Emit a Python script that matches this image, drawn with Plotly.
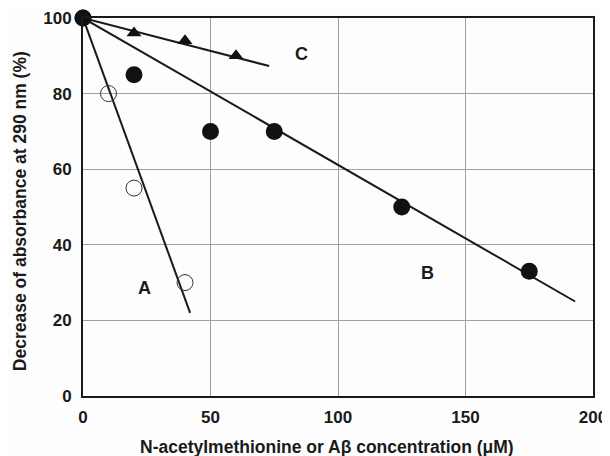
import plotly.graph_objects as go

# Data
a_x = [0, 10, 20, 40]
a_y = [100, 80, 55, 30]
b_x = [0, 20, 50, 75, 125, 175]
b_y = [100, 85, 70, 70, 50, 33]
c_x = [0, 20, 40, 60]
c_y = [100, 96, 94, 90]

# Fitted regression lines (endpoints)
fit_a_x = [0, 42]
fit_a_y = [100, 22]
fit_b_x = [0, 193]
fit_b_y = [100, 25]
fit_c_x = [0, 73]
fit_c_y = [100, 87.3]

labels = ["A", "B", "C"]
label_x = [24, 135, 85.5]
label_y = [28.5, 32.5, 90.5]

x_ticks = [0, 50, 100, 150, 200]
y_ticks = [0, 20, 40, 60, 80, 100]

x_title = "N-acetylmethionine or Aβ concentration (μM)"
y_title = "Decrease of absorbance at 290 nm (%)"

FONT = "Liberation Sans, Arial, sans-serif"
INK = "#1a1a1a"
fig = go.Figure()

line_style = dict(color=INK, width=2)
for fx, fy in [(fit_a_x, fit_a_y), (fit_b_x, fit_b_y), (fit_c_x, fit_c_y)]:
    fig.add_trace(go.Scatter(x=fx, y=fy, mode="lines", line=line_style,
                             showlegend=False, hoverinfo="skip", cliponaxis=False))

fig.add_trace(go.Scatter(x=a_x, y=a_y, mode="markers", cliponaxis=False, showlegend=False,
                         marker=dict(symbol="circle-open", size=16, color="#333333",
                                     line=dict(width=1, color="#333333"))))
fig.add_trace(go.Scatter(x=c_x, y=c_y, mode="markers", cliponaxis=False, showlegend=False,
                         marker=dict(symbol="triangle-up", size=13, color="#111111")))
fig.add_trace(go.Scatter(x=b_x, y=b_y, mode="markers", cliponaxis=False, showlegend=False,
                         marker=dict(symbol="circle", size=17, color="#111111")))

for t, lx, ly in zip(labels, label_x, label_y):
    fig.add_annotation(x=lx, y=ly, text="<b>%s</b>" % t, showarrow=False,
                       font=dict(family=FONT, size=18, color=INK))

fig.add_annotation(xref="paper", yref="paper", x=0.478, y=-0.135, text="<b>%s</b>" % x_title,
                   showarrow=False, xanchor="center", yanchor="middle",
                   font=dict(family=FONT, size=17.5, color=INK))
fig.add_annotation(xref="paper", yref="paper", x=-0.1235, y=0.489, text="<b>%s</b>" % y_title,
                   showarrow=False, xanchor="center", yanchor="middle", textangle=-90,
                   font=dict(family=FONT, size=17.5, color=INK))

axis_common = dict(
    showgrid=True, gridcolor="#a0a0a0", gridwidth=1,
    showline=True, linecolor=INK, linewidth=2, mirror=True,
    ticks="", zeroline=False, automargin=False,
    tickfont=dict(family=FONT, size=17, color=INK),
)

# page body has an 8px default margin, so the figure is 8px smaller
fig.update_layout(
    width=602, height=448,
    margin=dict(l=75, r=17, t=10, b=60),
    paper_bgcolor="#fdfdfd", plot_bgcolor="#fdfdfd",
    xaxis=dict(range=[0, 200], tickvals=x_ticks,
               ticktext=["<b>%d</b>" % v for v in x_ticks],
               ticklabelstandoff=5, **axis_common),
    yaxis=dict(range=[0, 100], tickvals=y_ticks,
               ticktext=["<b>%d</b>" % v for v in y_ticks],
               ticklabelstandoff=6, **axis_common),
)

fig.write_html("out.html")
